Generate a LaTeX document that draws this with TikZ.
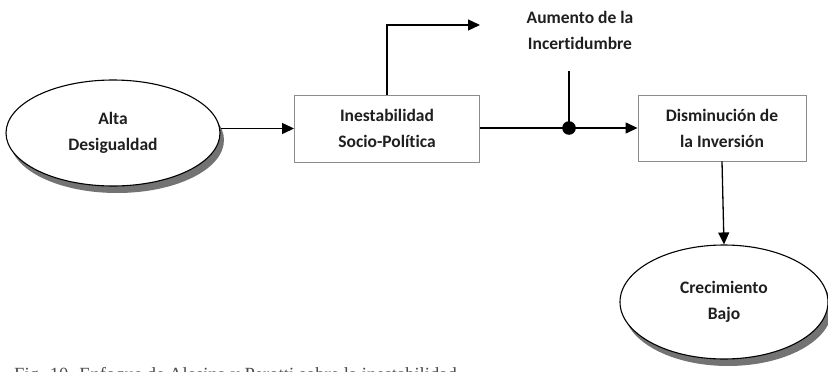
\documentclass[tikz,border=0pt]{standalone}
\usepackage{fontspec}
\setmainfont[Ligatures={NoCommon}]{Carlito}
\newfontfamily\capfont{Liberation Serif}
\usetikzlibrary{arrows.meta,shapes.geometric}
\tikzset{
  lbl/.style={align=center,font=\fontsize{17.5}{26}\selectfont\bfseries,text=black!88},
  oval/.style={ellipse,draw=black,line width=1.1pt,fill=white,lbl,inner sep=0pt},
  block/.style={rectangle,draw=black!45,line width=0.9pt,fill=white,lbl,inner sep=0pt},
  conn/.style={line width=1.3pt,-{Triangle[length=12pt,width=11pt]}},
  plain/.style={line width=1.3pt},
  shade/.style={fill=black!55,draw=none},
}
\begin{document}
\begin{tikzpicture}[x=1pt,y=-1pt]
\useasboundingbox (0,0) rectangle (828,372);
\clip (0,0) rectangle (828,372);
% shadows under the ovals
\fill[shade] (117,140) ellipse [x radius=107,y radius=53];
\fill[shade] (728,309) ellipse [x radius=104,y radius=57];
% nodes
\node[oval,minimum width=214pt,minimum height=106pt] (alta) at (113,133) {Alta\\Desigualdad};
\node[block,minimum width=185pt,minimum height=67pt] (inest) at (387,128.5) {Inestabilidad\\Socio-Política};
\node[block,minimum width=168pt,minimum height=66pt] (dism) at (722,128) {Disminución de\\la Inversión};
\node[oval,minimum width=208pt,minimum height=114pt] (crec) at (724,302) {Crecimiento\\Bajo};
\node[lbl,anchor=center] (aum) at (580,30.5) {Aumento de la\\Incertidumbre};
% junction and free ends
\coordinate (jn) at (569,128);
\coordinate (jtop) at (569,71);
\coordinate (up) at (387,25);
\coordinate (uptip) at (480,25);
% connectors
\draw[conn] (alta.east |- inest.west) -- (inest.west);
\draw[conn] (inest.north) -- (up) -- (uptip);
\draw[plain] (inest.east |- jn) -- (jn);
\draw[conn] (jn) -- (dism.west |- jn);
\draw[plain] (jtop) -- (jn);
\fill (jn) circle (6.8pt);
\draw[conn] (dism.south) -- (crec.north);
% caption
\node[anchor=base west,inner sep=0pt,font=\capfont\fontsize{18.6}{21}\selectfont,text=black!70] (cap) at (14,380) {Fig. 10. Enfoque de Alesina y Perotti sobre la inestabilidad};
\end{tikzpicture}
\end{document}
